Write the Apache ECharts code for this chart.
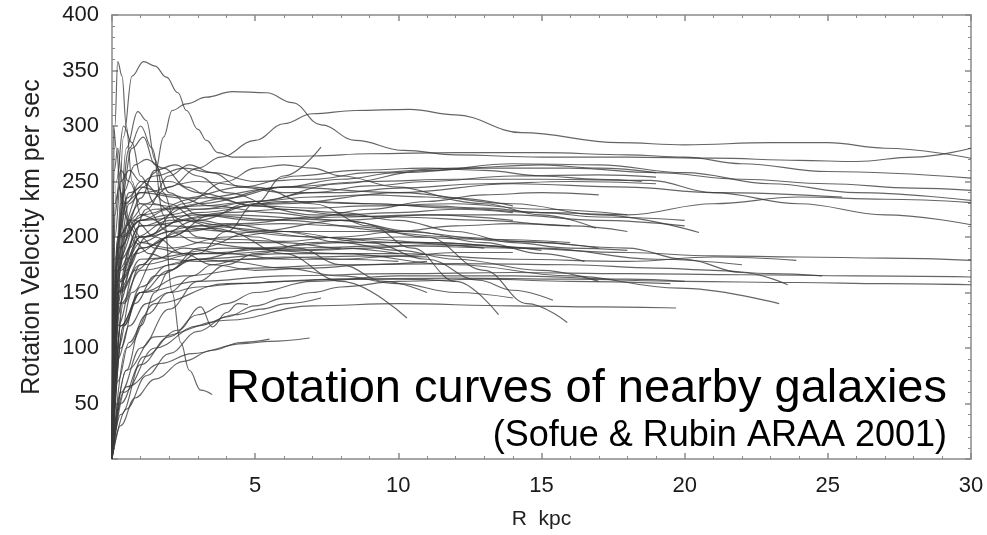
<!DOCTYPE html>
<html>
<head>
<meta charset="utf-8">
<script src="https://cdn.jsdelivr.net/npm/echarts@6/dist/echarts.min.js"></script>
<style>
html,body{margin:0;padding:0;background:#fff;}
#chart{width:987px;height:535px;}
</style>
</head>
<body>
<div id="chart"></div>
<script>
// Axis ticks
const xTicks = [0, 5, 10, 15, 20, 25, 30];
const yTicks = [0, 50, 100, 150, 200, 250, 300, 350, 400];

// Rotation curves, [R kpc, V km/s]
const curve01 = [[0,0],[0.15,150],[0.4,290],[0.7,345],[1.1,358],[1.5,354],[1.9,344],[2.3,330],[2.6,314],[3,297],[3.3,287],[3.7,276],[4.2,272],[5,272],[7,273],[9,275],[12,276],[15,276],[18,274],[20,272],[22,266],[25,259],[30,253]];
const curve02 = [[0,0],[0.2,180],[0.6,230],[1.1,245],[1.5,258],[1.8,290],[2.1,314],[2.6,320],[3.3,326],[4.2,331],[5.4,330],[6.3,321],[7.3,301],[8.5,287],[10.2,278],[12,274],[15,272],[18,272],[21,271],[24,269],[26,268],[28,272],[30,280]];
const curve03 = [[0,0],[0.2,170],[0.6,215],[1.2,230],[2,245],[3,262],[3.8,272],[5,287],[6,302],[7,311],[8.5,314],[10.4,315],[12,310],[14.3,294],[17.7,285],[20,283],[23,285],[25,285],[27,280],[30,271]];
const curve04 = [[0,0],[0.1,120],[0.4,200],[1,215],[2,225],[4,235],[6,245],[8,252],[10,258],[13,262],[16,262],[19,258],[22,252],[25,248],[28,244],[30,242]];
const curve05 = [[0,0],[0.2,150],[1,190],[3,215],[5,232],[8,248],[11,260],[14,266],[17,265],[20,258],[23,248],[26,240],[30,233]];
const curve06 = [[0,0],[0.3,160],[1,200],[3,222],[6,232],[9,230],[12,226],[15,222],[18,220],[21,230],[24,236],[27,234],[30,231]];
const curve07 = [[0,0],[0.2,170],[1,210],[3,230],[6,245],[9,250],[12,252],[15,252],[18.8,251],[21,240],[24,230],[27,220],[30,211]];
const curve08 = [[0,0],[0.2,150],[1,175],[3,185],[6,190],[10,192],[14,190],[18,186],[21,183],[24,182],[27,181],[30,179]];
const curve09 = [[0,0],[0.3,120],[1,150],[3,160],[6,165],[10,167],[14,168],[18,167],[22,166],[26,165],[30,164]];
const curve10 = [[0,0],[0.5,100],[1.5,140],[4,158],[8,162],[12,163],[16,162],[20,160],[24,159],[27,158],[30,157]];
const curve11 = [[0,0],[0.2,200],[1,230],[3,225],[6,230],[10,240],[14,248],[18,245],[21,240],[25.5,236]];
const curve12 = [[0,0],[0.3,140],[1,170],[3,180],[6,185],[10,185],[14,180],[18,178],[21,182],[23.9,179]];
const curve13 = [[0,0],[0.4,120],[1,150],[2.5,165],[5,172],[8,175],[12,176],[16,175],[19,172],[21,170],[23,167],[24.8,165]];
const curve14 = [[0,0],[0.2,190],[1,215],[3,220],[6,215],[10,205],[14,196],[18,190],[20,180],[22,168],[23.6,157]];
const curve15 = [[0,0],[0.3,150],[1,180],[4,190],[8,185],[12,175],[16,165],[19.8,154],[23.3,140]];
const curve16 = [[0,0],[0.2,180],[1,220],[3,235],[6,245],[10,240],[14,230],[17,220],[20.5,204]];
const curve17 = [[0,0],[0.2,170],[0.7,215],[1.5,225],[3,228],[5,232],[7,236],[9,238],[11,236],[13,230],[15,220],[16.9,208]];
const curve18 = [[0,0],[0.3,170],[1,200],[3,210],[6,205],[9,195],[11,180],[12.8,161],[14,152],[15.4,143]];
const curve19 = [[0,0],[0.2,200],[1,240],[3,250],[5,245],[7,230],[9,210],[10.5,190],[12,160],[13.5,130]];
const curve20 = [[0,0],[0.3,180],[1,210],[4,220],[8,215],[11,200],[13,170],[14.5,140],[15.9,123]];
const curve21 = [[0,0],[0.5,80],[1.5,110],[4,125],[7,138],[10,140],[14,138],[17,137],[19.7,136]];
const curve22 = [[0,0],[0.2,160],[1,200],[2.5,215],[4,205],[6,185],[8,160],[10.3,127]];
const curve23 = [[0,0],[0.3,40],[1.1,92],[2.3,116],[3.1,137],[3.5,119],[4,132],[4.4,140],[4.75,139]];
const curve24 = [[0,0],[0.5,65],[1.7,86],[2.8,95],[4.6,104],[5.5,106],[6.9,109]];
const curve25 = [[0,0],[0.2,200],[0.6,280],[1,300],[1.4,280],[1.8,220],[2.1,150],[2.4,105],[2.7,80],[3.1,62],[3.5,58]];
const curve26 = [[0,0],[0.4,60],[1.5,100],[3,120],[4.3,130],[5.2,135],[6.1,140],[7.3,145]];
const curve27 = [[0,0],[0.3,120],[1,150],[2,170],[3,185],[4,205],[5,230],[6,255],[7.3,281]];
const curve28 = [[0,0],[0.2,180],[0.5,280],[0.9,313],[1.2,305],[1.5,270],[1.8,240],[2.2,215],[3,200],[4,195],[6,195],[8,190],[10,185]];
const curve29 = [[0,0],[0.1,300],[0.2,358],[0.35,345],[0.5,300],[0.7,250],[1,220],[2,210],[4,205],[7,200],[10,195],[13,190]];
const curve30 = [[0,0],[0.05,300],[0.15,280],[0.3,240],[0.6,210],[1,195],[2,190],[4,200],[6,205],[9,205],[12,200],[15,195],[17,190]];
const curve31 = [[0,0],[0.3,30],[0.8,55],[1.5,72],[2.5,88],[3.5,98],[4.5,105],[5.5,108]];
const curve32 = [[0,0],[0.3,50],[1,85],[2,110],[3,130],[4,140],[5,150],[7,160],[10,165],[14,165],[18,162],[20,160]];
const curve33 = [[0,0],[0.3,60],[1,100],[2,135],[3,160],[4,175],[5,185],[7,195],[10,200],[13,198],[16,195]];
const curve34 = [[0,0],[0.5,80],[1,120],[1.5,150],[2,170],[3,190],[5,205],[8,215],[11,220],[14,220],[17,215],[20,210]];
const curve35 = [[0,0],[0.3,100],[0.8,140],[1.5,165],[3,180],[5,190],[8,195],[11,195],[15,190],[19,180],[22,175]];
const curve36 = [[0,0],[0.5,45],[1.2,75],[2,95],[3,115],[4,128],[5,138],[6,145],[7,150],[8,155],[10,160],[13,162],[16,160],[19.5,158]];
const curve37 = [[0,0],[0.2,70],[0.6,105],[1.2,130],[2,150],[2.8,165],[3.5,175],[4.5,180],[6,182],[8,180],[10,178]];
const curve38 = [[0,0],[0.2,200],[0.6,240],[1.5,255],[2.5,262],[3.5,258],[5,250],[7,252],[9,258],[12,262],[15,265],[17,262],[19,258]];
const curve39 = [[0,0],[0.1,150],[0.5,230],[1,250],[2,250],[3,240],[5,228],[7,220],[10,218],[13,215],[16,210],[18,205]];
const curve40 = [[0,0],[0.1,200],[0.3,250],[0.6,260],[1,250],[2,230],[3,215],[5,205],[7,200],[9,198],[11,195],[14,190]];
const curve41 = [[0,0],[0.2,160],[0.5,210],[1,235],[1.5,260],[2.2,265],[3,255],[4,240],[6,225],[8,220],[10,222],[12,225],[14,222]];
const curve42 = [[0,0],[0.3,230],[0.7,280],[1.1,290],[1.5,265],[2,240],[3,220],[5,215],[8,218],[11,220],[14,215]];
const curve43 = [[0,0],[0.15,250],[0.4,300],[0.7,285],[1,255],[1.5,230],[2.5,215],[4,210],[6,212],[8,210],[10,205]];
const curve44 = [[0,0],[0.4,140],[1,175],[2,200],[3,210],[4,212],[6,205],[8,195],[10,188],[12,180],[15,170],[17,160]];
const curve45 = [[0,0],[0.2,120],[0.8,170],[2,200],[3.5,220],[5,230],[7,232],[9,230],[11,228],[13,226],[15,222],[17,218],[20,215]];
const curve46 = [[0,0],[0.1,220],[0.3,260],[0.6,250],[1,230],[2,205],[3,195],[5,190],[7,188],[9,190],[11,193],[13,192],[15,188]];
const curve47 = [[0,0],[0.5,170],[1.2,200],[2.5,230],[4,250],[5,262],[6,265],[7,262],[8,255],[10,245],[12,235],[14,228]];
const curve48 = [[0,0],[0.2,100],[0.7,150],[1.5,180],[2.5,190],[4,185],[6,180],[8,180],[10,183],[12,186],[14,186]];
const curve49 = [[0,0],[0.3,190],[0.8,215],[1.5,200],[2.5,185],[3.5,175],[5,170],[7,172],[9,175],[11,178]];
const curve50 = [[0,0],[0.1,170],[0.4,240],[0.8,265],[1.2,270],[1.8,262],[2.6,245],[3.5,235],[5,228],[7,226],[9,228],[12,230],[15,225],[18,220]];
const curve51 = [[0,0],[0.2,130],[0.6,190],[1.2,225],[2,255],[2.7,265],[3.5,258],[4.5,245],[6,240],[8,240],[10,244],[13,248],[16,250],[19,248]];
const curve52 = [[0,0],[0.1,160],[0.3,200],[1,215],[2,220],[3,225],[5,232],[7,240],[9,246],[11,250],[14,255],[17,256],[19,254]];
const curve53 = [[0,0],[0.4,120],[1,155],[2,175],[3,180],[4,178],[6,172],[8,165],[10,158],[12,150],[14,145]];
const curve54 = [[0,0],[0.2,90],[0.6,120],[1.2,140],[2,150],[3,155],[4.5,158],[6,160],[8,162],[10,162],[12,160]];
const curve55 = [[0,0],[0.2,140],[0.5,180],[1,195],[2,205],[3.5,208],[5,200],[6.5,190],[8,175],[9.5,160],[11,150]];
const curve56 = [[0,0],[0.08,260],[0.2,280],[0.35,250],[0.6,215],[1,200],[1.5,190],[2.5,185],[4,185],[6,188],[8,190]];
const curve57 = [[0,0],[0.1,230],[0.25,245],[0.45,220],[0.8,195],[1.3,185],[2,180],[3,178],[5,180],[7,182],[9,183],[11,182]];
const curve58 = [[0,0],[0.2,150],[0.8,200],[2,215],[4,222],[6,225],[8,222],[10,215],[12,205],[14,195],[16,190],[18,188]];
const curve59 = [[0,0],[0.3,160],[1,190],[2.5,205],[4.5,212],[7,218],[9,225],[11,232],[13,238],[15,240],[17,238]];
const curve60 = [[0,0],[0.15,190],[0.5,235],[1,245],[2,238],[3.5,228],[5.5,222],[8,215],[10.5,205],[13,195],[15,185],[16.5,178]];
const curve61 = [[0,0],[0.25,140],[0.8,185],[2,200],[4,198],[6,196],[8,200],[10,205],[12,210],[14,212],[16,210]];
const curve62 = [[0,0],[0.1,180],[0.4,230],[1,240],[2.5,235],[4.5,245],[6.5,255],[8.5,260],[11,262],[13,260],[15,255],[17,252],[18.5,250]];

const curves = [curve01,curve02,curve03,curve04,curve05,curve06,curve07,curve08,curve09,curve10,
  curve11,curve12,curve13,curve14,curve15,curve16,curve17,curve18,curve19,curve20,
  curve21,curve22,curve23,curve24,curve25,curve26,curve27,curve28,curve29,curve30,
  curve31,curve32,curve33,curve34,curve35,curve36,curve37,curve38,curve39,curve40,
  curve41,curve42,curve43,curve44,curve45,curve46,curve47,curve48,curve49,curve50,
  curve51,curve52,curve53,curve54,curve55,curve56,curve57,curve58,curve59,curve60,
  curve61,curve62];

const chart = echarts.init(document.getElementById('chart'), null, {renderer:'canvas'});
const FONT = '"Liberation Sans", Arial, Helvetica, sans-serif';
const axisLineStyle = {color:'#8a8a8a', width:1.5};
const labelFmt = v => (v === 0 ? '' : String(v));

const series = curves.map((c, i) => ({
  type:'line',
  name:'g' + (i+1),
  data:c,
  xAxisIndex:0, yAxisIndex:0,
  showSymbol:false,
  smooth:0.4,
  smoothMonotone:'x',
  silent:true,
  animation:false,
  lineStyle:{color:'#3a3a3a', width:1.15, opacity:0.78}
}));

chart.setOption({
  animation:false,
  backgroundColor:'#fff',
  grid:{left:112, right:16, top:15, bottom:76, containLabel:false},
  xAxis:[{
    type:'value', min:xTicks[0], max:xTicks[xTicks.length-1], interval:5,
    position:'bottom',
    name:'R  kpc', nameLocation:'middle', nameGap:50,
    nameTextStyle:{fontFamily:FONT, fontSize:21, color:'#222'},
    axisLine:{show:true, lineStyle:axisLineStyle},
    axisTick:{show:true, inside:true, length:6, lineStyle:axisLineStyle},
    minorTick:{show:true, splitNumber:5, length:3, lineStyle:{color:'#8a8a8a', width:1}},
    axisLabel:{formatter:labelFmt, margin:16, fontFamily:FONT, fontSize:22, color:'#1a1a1a'},
    splitLine:{show:false}, minorSplitLine:{show:false}
  },{
    type:'value', min:xTicks[0], max:xTicks[xTicks.length-1], interval:5,
    position:'top',
    axisLine:{show:true, onZero:false, lineStyle:axisLineStyle},
    axisTick:{show:true, inside:true, length:6, lineStyle:axisLineStyle},
    minorTick:{show:true, splitNumber:5, length:3, lineStyle:{color:'#8a8a8a', width:1}},
    axisLabel:{show:false}, splitLine:{show:false}
  }],
  yAxis:[{
    type:'value', min:yTicks[0], max:yTicks[yTicks.length-1], interval:50,
    position:'left',
    name:'Rotation Velocity km per sec', nameLocation:'middle', nameGap:67, nameRotate:90,
    nameTextStyle:{fontFamily:FONT, fontSize:25, color:'#222'},
    axisLine:{show:true, onZero:false, lineStyle:axisLineStyle},
    axisTick:{show:true, inside:true, length:6, lineStyle:axisLineStyle},
    minorTick:{show:true, splitNumber:5, length:3, lineStyle:{color:'#8a8a8a', width:1}},
    axisLabel:{formatter:labelFmt, margin:13, fontFamily:FONT, fontSize:22, color:'#1a1a1a'},
    splitLine:{show:false}
  },{
    type:'value', min:yTicks[0], max:yTicks[yTicks.length-1], interval:50,
    position:'right',
    axisLine:{show:true, onZero:false, lineStyle:axisLineStyle},
    axisTick:{show:true, inside:true, length:6, lineStyle:axisLineStyle},
    minorTick:{show:true, splitNumber:5, length:3, lineStyle:{color:'#8a8a8a', width:1}},
    axisLabel:{show:false}, splitLine:{show:false}
  }],
  graphic:[{
    type:'text', right:40, top:366, z:100,
    style:{text:'Rotation curves of nearby galaxies', fontFamily:FONT, fontSize:47, fill:'#000'}
  },{
    type:'text', right:40, top:418, z:100,
    style:{text:'(Sofue & Rubin ARAA 2001)', fontFamily:FONT, fontSize:36, fill:'#000'}
  }],
  series:series
});
</script>
</body>
</html>
